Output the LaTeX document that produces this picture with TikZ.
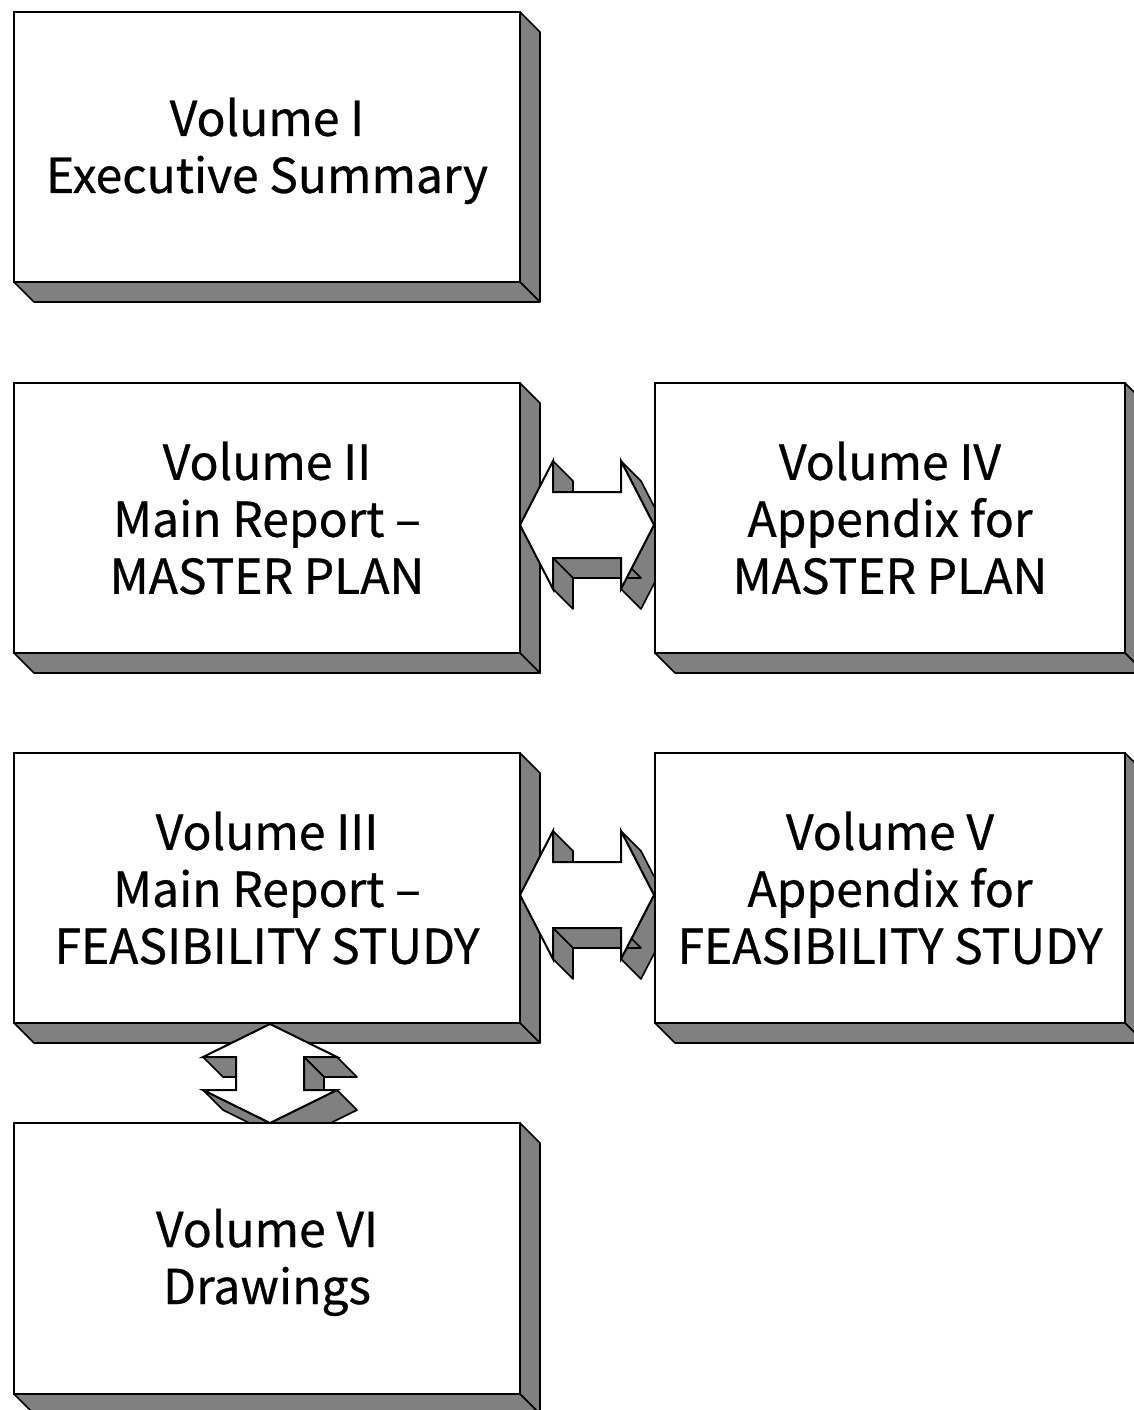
\documentclass[tikz,border=0pt]{standalone}
\usepackage{fontspec}
\setmainfont{Noto Sans CJK JP}[FakeBold=0.6]
\usetikzlibrary{calc}
\newcommand\bevelbox[1]{%
  \filldraw[shade] (#1.north east) -- ++(20,20) -- ($(#1.south east)+(20,20)$) -- (#1.south east) -- cycle;
  \filldraw[shade] (#1.south west) -- (#1.south east) -- ++(20,20) -- ($(#1.south west)+(20,20)$) -- cycle;}
\begin{document}
\begin{tikzpicture}[x=0.5pt,y=-0.5pt,
  vol/.style={draw, line width=1pt, fill=white, align=center, inner sep=0pt, outer sep=0pt,
    font=\fontsize{24}{28.5}\selectfont, minimum height=135pt},
  wide/.style={minimum width=253pt},
  narrow/.style={minimum width=235pt},
  shade/.style={fill=black!50, draw, line width=0.8pt, line join=round},
  front/.style={fill=white, draw, line width=1pt, line join=miter}]
\useasboundingbox (0,0) rectangle (1134,1410);
\clip (0,0) rectangle (1134,1410);
\fill[white] (0,0) rectangle (1134,1410);

\node[vol, wide] (b1) at (267,147) {\rule{0pt}{23pt}Volume I\\Executive Summary};
\bevelbox{b1}
\node[vol, wide] (b2) at (267,518) {Volume II\\Main Report –\\MASTER PLAN};
\bevelbox{b2}
\node[vol, wide] (b3) at (267,888) {Volume III\\Main Report –\\FEASIBILITY STUDY};
\bevelbox{b3}

% double arrows between left and right boxes
\foreach \src in {b2,b3}{
\begin{scope}[shift={($(\src.east)+(0,7)$)}]
  \filldraw[shade] (33,-64) -- (33,-33) -- (53,-13) -- (53,-44) -- cycle;
  \filldraw[shade] (101,-64) -- (134,0) -- (154,20) -- (121,-44) -- cycle;
  \filldraw[shade] (134,0) -- (101,64) -- (121,84) -- (154,20) -- cycle;
  \filldraw[shade] (101,33) -- (33,33) -- (53,53) -- (121,53) -- cycle;
  \filldraw[shade] (33,33) -- (33,64) -- (53,84) -- (53,53) -- cycle;
  \filldraw[front] (0,0) -- (33,-64) -- (33,-33) -- (101,-33) -- (101,-64) -- (134,0)
    -- (101,64) -- (101,33) -- (33,33) -- (33,64) -- cycle;
\end{scope}}

% vertical double arrow between Volume III and Volume VI
\begin{scope}[shift={($(b3.south)+(3,1)$)}]
  \filldraw[shade] (67,33) -- (34,33) -- (54,53) -- (87,53) -- cycle;
  \filldraw[shade] (34,33) -- (34,66) -- (54,86) -- (54,53) -- cycle;
  \filldraw[shade] (67,66) -- (0,99) -- (20,119) -- (87,86) -- cycle;
  \filldraw[shade] (0,99) -- (-67,66) -- (-47,86) -- (20,119) -- cycle;
  \filldraw[shade] (-34,33) -- (-67,33) -- (-47,53) -- (-14,53) -- cycle;
  \filldraw[front] (0,0) -- (67,33) -- (34,33) -- (34,66) -- (67,66) -- (0,99)
    -- (-67,66) -- (-34,66) -- (-34,33) -- (-67,33) -- cycle;
\end{scope}

\node[vol, narrow] (b4) at (890,518) {Volume IV\\Appendix for\\MASTER PLAN};
\bevelbox{b4}
\node[vol, narrow] (b5) at (890,888) {Volume V\\Appendix for\\FEASIBILITY STUDY};
\bevelbox{b5}
\node[vol, wide, minimum height=135.5pt] (b6) at (267,1258.5) {\rule{0pt}{23pt}Volume VI\\Drawings};
\bevelbox{b6}
\end{tikzpicture}
\end{document}
